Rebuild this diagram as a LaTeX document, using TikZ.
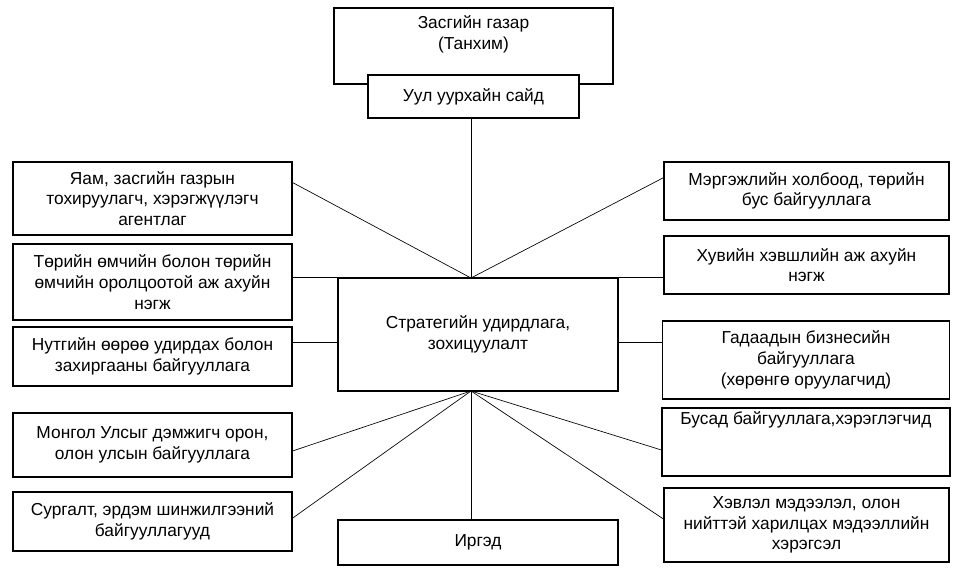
\documentclass[tikz,border=0pt]{standalone}
\usepackage{fontspec}
\setmainfont{Liberation Sans}
\begin{document}
\begin{tikzpicture}[x=0.75pt,y=-0.75pt,
	font=\fontsize{13}{15.5}\selectfont,
	box/.style={draw,line width=.8pt,fill=white,align=center,inner sep=2pt},
	link/.style={line width=.5pt}]
				\def\px{0.75pt}
				\useasboundingbox (0,0) rectangle (961,582);
				
				\node[box,minimum width=279*\px,minimum height=76*\px] (govt) at (473.5,46) {Засгийн газар\\(Танхим)\\\strut};
				\node[box,minimum width=211*\px,minimum height=43*\px] (sub) at (473.5,96.5) {Уул уурхайн сайд};
				\node[box,minimum width=280*\px,minimum height=113*\px] (strat) at (478,334.5) {Стратегийн удирдлага,\\зохицуулалт};
				\node[box,minimum width=280*\px,minimum height=45*\px] (irged) at (478,542.5) {Иргэд};
				
				\node[box,minimum width=279*\px,minimum height=73*\px] (yam) at (152.5,198.5) {Яам, засгийн газрын\\тохируулагч, хэрэгжүүлэгч\\агентлаг};
				\node[box,minimum width=279*\px,minimum height=76*\px] (torh) at (152.5,282) {Төрийн өмчийн болон төрийн\\өмчийн оролцоотой аж ахуйн\\нэгж};
				\node[box,minimum width=279*\px,minimum height=59*\px] (nutag) at (152.5,356.5) {Нутгийн өөрөө удирдах болон\\захиргааны байгууллага};
				\node[box,minimum width=279*\px,minimum height=64*\px] (mongol) at (152.5,445) {Монгол Улсыг дэмжигч орон,\\олон улсын байгууллага};
				\node[box,minimum width=279*\px,minimum height=59*\px] (surgalt) at (152.5,521.5) {Сургалт, эрдэм шинжилгээний\\байгууллагууд};
				
				\node[box,minimum width=285*\px,minimum height=58*\px] (mergejil) at (806.5,191) {Мэргэжлийн холбоод, төрийн\\бус байгууллага};
				\node[box,minimum width=285*\px,minimum height=58*\px] (huviin) at (806.5,265) {Хувийн хэвшлийн аж ахуйн\\нэгж};
				\node[box,minimum width=287*\px,minimum height=78*\px] (gadaad) at (806,360) {Гадаадын бизнесийн\\байгууллага\\(хөрөнгө оруулагчид)};
				\node[box,minimum width=288*\px,minimum height=68*\px] (busad) at (806,442) {Бусад байгууллага,хэрэглэгчид\\\strut\\\strut};
				\node[box,minimum width=285*\px,minimum height=74*\px] (hevlel) at (806.5,525) {Хэвлэл мэдээлэл, олон\\нийттэй харилцах мэдээллийн\\хэрэгсэл};
				
				\coordinate (hubtop) at (471,278);
				\coordinate (hubbot) at (471,391);
				
				\draw[link] (hubtop) -- (hubtop |- sub.south);
				\draw[link] (hubtop) -- ([yshift=12pt]yam.east);
				\draw[link] (hubtop) -- ([yshift=10pt]mergejil.west);
				\draw[link] (strat.north west) -- (strat.north west -| torh.east);
				\draw[link] (strat.north east) -- (strat.north east -| huviin.west);
				\draw[link] ([yshift=-6pt]strat.west) -- ([yshift=-6pt]strat.west -| nutag.east);
				\draw[link] ([yshift=-6pt]strat.east) -- ([yshift=-6pt]strat.east -| gadaad.west);
				\draw[link] (hubbot) -- ([yshift=-4.5pt]mongol.east);
				\draw[link] (hubbot) -- ([yshift=2.5pt]surgalt.east);
				\draw[link] (hubbot) -- (hubbot |- irged.north);
				\draw[link] (hubbot) -- ([yshift=-6pt]busad.west);
				\draw[link] (hubbot) -- ([yshift=4.5pt]hevlel.west);
	\end{tikzpicture}
\end{document}
